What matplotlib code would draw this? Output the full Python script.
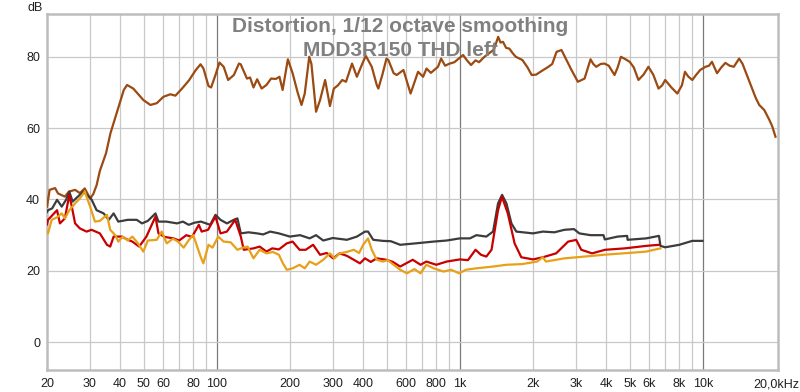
import matplotlib
matplotlib.use("Agg")
import matplotlib.pyplot as plt
from matplotlib.ticker import FixedLocator, NullFormatter, FixedFormatter

# ---------------- data ----------------
fund_f = [20, 20.5, 21.6, 22.2, 23.7, 24.6, 26.1, 27.3, 28.6, 30.1, 31, 32, 33, 35, 36.5, 38.7,
          41.4, 42.7, 45.3, 49.8, 53.3, 56.6, 60.3, 64.4, 67.5, 71.9, 76.8, 81.9, 85.7, 88.1,
          92.4, 94.7, 98.7, 102.5, 106.7, 111.3, 117.5, 123.3, 125.4, 133, 137, 141.5, 146.5,
          152.8, 160, 167.2, 175, 181, 186.5, 196, 205, 215, 223, 230, 240, 245, 256, 266,
          279, 292, 303, 315, 328, 340, 360, 377, 392, 410, 434, 455, 462, 480, 499, 508,
          534, 550, 586, 627, 673, 706, 729, 760, 790, 813, 837, 870, 900, 950, 1031, 1070,
          1112, 1160, 1200, 1262, 1320, 1380, 1438, 1470, 1505, 1550, 1598, 1650, 1700, 1809,
          1900, 1975, 2060, 2146, 2230, 2315, 2400, 2500, 2620, 2750, 2880, 3060, 3260, 3450,
          3540, 3640, 3800, 3940, 4100, 4330, 4460, 4600, 4750, 5000, 5200, 5430, 5700, 5970,
          6250, 6570, 6800, 7000, 7400, 7850, 8200, 8440, 8700, 9050, 9400, 9750, 10250,
          10600, 10900, 11440, 11900, 12380, 12900, 13410, 14100, 14550, 15270, 16030, 16500,
          17060, 17890, 18780, 19300, 19900]
fund_db = [38, 42.7, 43.2, 41.7, 40.8, 42.2, 42.7, 41.8, 43.1, 40.3, 41.5, 44, 48, 53, 58.6, 64.2,
           70.7, 72.1, 71.1, 67.9, 66.5, 67.0, 68.8, 69.5, 69.1, 71.1, 73.4, 76.3, 77.9, 76.7,
           71.8, 71.4, 74.9, 78.4, 77.2, 73.5, 74.9, 78.1, 77.9, 73.9, 74.2, 71.4, 73.7,
           71.1, 72.1, 73.9, 73.8, 74.4, 70.7, 79.3, 75.4, 70, 66.5, 69.7, 80, 78, 64.6, 67.9,
           73.5, 66.2, 71.1, 72, 73.5, 73, 78.1, 74.4, 77.2, 80.3, 77.2, 72.1, 71.1, 75, 79.5, 79.1,
           75.4, 74.9, 76.3, 69.7, 75.8, 74.4, 76.7, 75.5, 76.5, 77.2, 79.5, 77.5, 78, 78.5, 80.5, 79,
           77.7, 79, 78.5, 80, 81, 82, 85.6, 84, 84.2, 82.5, 82.3, 81, 80, 79.1,
           77, 74.9, 75, 75.8, 76.5, 77.2, 78, 81.4, 81.9, 79, 76.3, 73, 73.9, 79.3,
           78, 77.2, 78, 78.1, 77.5, 74.9, 77, 80, 79.5, 78.6, 77, 73.5, 75, 77.2,
           75, 71.1, 72, 73.5, 71.5, 69.7, 72, 75.8, 74.5, 73.5, 75, 76.3, 77.2,
           77.5, 78.6, 75.4, 77, 78.3, 77.5, 77.2, 79.5, 78.1, 74.4, 70.7, 68.5,
           66.5, 65.1, 62.3, 60.5, 57.6]

thd_f = [20, 20.2, 21, 22, 23, 24, 24.7, 25.5, 26.5, 28.2, 29, 30.5, 32, 34.2, 35.9, 37.6, 39.3,
         43, 46.8, 49.2, 52, 55.9, 57.5, 62, 68.6, 72.5, 76.6, 81, 86, 93.9, 98.7, 103.5, 110,
         117.4, 121.5, 125.5, 135, 146.5, 155, 165.8, 180, 199.8, 220, 241, 256, 274, 300, 343,
         377, 407, 419, 440, 482, 520, 568, 657, 780, 883, 1000, 1100, 1170, 1285, 1370, 1436,
         1492, 1555, 1630, 1708, 2000, 2195, 2450, 2690, 2950, 3100, 3450, 3900, 3950, 4460,
         4880, 4900, 5850, 6600, 6690, 7000, 8000, 9050, 9960]
thd_db = [36.5, 37, 37.5, 39.9, 38, 40, 42.2, 39.4, 40.5, 42.2, 41.5, 40, 37, 36.1, 34.3, 36.1, 33.8,
          34.3, 34.3, 33.3, 34, 36.1, 33.8, 33.8, 33.3, 33.8, 32.9, 33.5, 33.8, 32.9, 35.7, 34.3, 33.3,
          34.3, 34.7, 30.5, 30.8, 30.5, 30.2, 31, 30.5, 29.6, 30, 29.1, 30, 28.5, 29.2, 28.7,
          29.6, 31, 31, 28.7, 28.4, 28.3, 27.3, 27.7, 28.2, 28.5, 29.1, 29.1, 30, 29.6, 31, 38.9,
          41.3, 38.9, 33.3, 31, 30.5, 31, 30.8, 31.5, 31.7, 30.5, 30, 30, 28.8, 29.6,
          29.8, 28.7, 29.1, 29.8, 27, 26.6, 27.3, 28.4, 28.4]

h2_f = [20, 20.2, 22, 22.6, 23.7, 24.7, 25.3, 26.1, 27.3, 29.1, 30.5, 33, 35.3, 36.4, 37.6, 40.6,
        43, 44.9, 47.9, 51.3, 55.9, 57.5, 61, 66.3, 70, 74.9, 79, 84.3, 86.6, 92, 98.7, 103.5,
        110, 119, 125.5, 129, 141.5, 150, 160, 169, 180, 194, 205, 219, 232, 249, 266, 283, 301,
        320, 343, 366, 388, 407, 430, 455, 499, 530, 568, 640, 689, 728, 800, 883, 1000, 1080,
        1160, 1222, 1285, 1350, 1436, 1490, 1575, 1680, 1790, 2000, 2195, 2490, 2790, 2930,
        3010, 3160, 3500, 3960, 4780, 5850, 6600]
h2_db = [33, 34.3, 37, 33.3, 34.7, 41.3, 38, 33.3, 31.9, 31, 31.5, 30.5, 27.3, 26.8, 29.6, 29.6,
         28.7, 28.2, 26.8, 29.6, 35.2, 30.5, 29.5, 29.1, 28.5, 30, 29.5, 32.9, 31, 31.5, 35.2, 30.5,
         31, 34.3, 29.6, 25.9, 26.3, 26.8, 25.4, 26.3, 26, 27.7, 28.2, 25.9, 25.9, 27.3, 24.5, 25, 23.5,
         24.9, 24.2, 23.1, 22.1, 23.5, 22.5, 23.5, 23.1, 22.5, 21.2, 23.1, 21.7, 22.6, 21.7, 22.6, 23.2, 23,
         25.9, 24.5, 24, 25.9, 37, 40.8, 36.1, 27.7, 23.8, 23.2, 23.8, 24.9, 28.2, 28.5,
         28.7, 25.9, 24.9, 25.9, 26.3, 27, 27.3]

h3_f = [20, 20.2, 20.9, 22, 23, 23.7, 24.7, 26.1, 27.3, 28.6, 30.1, 31.5, 33, 35.3, 36.4, 38.2,
        39.3, 41, 43, 44.9, 47, 49.8, 52, 56.6, 59.3, 62.2, 66, 69.2, 73, 76.8, 80, 85.7, 88,
        92.4, 96, 101.3, 106.7, 114, 121.5, 128, 133.8, 141.5, 150, 160, 170, 180, 187, 194, 205,
        219, 230, 241, 256, 274, 292, 305, 320, 343, 366, 385, 400, 419, 434, 455, 482, 505, 534,
        568, 606, 650, 689, 728, 780, 857, 920, 994, 1058, 1166, 1370, 1555, 1809, 2080, 2195,
        2260, 2690, 3260, 3900, 5160, 5850, 6690]
h3_db = [31, 30.5, 34.3, 35, 36.1, 34.7, 37, 38.9, 40.3, 42.2, 38, 33.8, 34, 35.7, 31.5, 30,
         28.2, 29.6, 28.5, 29.6, 28, 25.4, 28.5, 28.7, 31, 27.7, 29, 28.2, 26.5, 28.7, 30, 24, 22.1,
         27.3, 26.5, 29.6, 28.2, 28, 25.9, 26.5, 26.8, 23.5, 25.9, 24.9, 25.3, 24.5, 22.1, 20.3, 20.7,
         21.7, 20.7, 22.6, 21.7, 23.1, 24.9, 23.5, 24.9, 25.3, 25.9, 25, 27.3, 29.1, 25.9, 23.1, 22.6, 23, 21.7,
         20.3, 19.3, 20.5, 19.3, 21.7, 20.7, 19.8, 20.3, 19.3, 20.3, 20.7, 21.2, 21.7, 21.9, 22.6, 23.8,
         22.6, 23.5, 24, 24.5, 25.1, 25.4, 26.3]

xtick_vals = [20, 30, 40, 50, 60, 80, 100, 200, 300, 400, 600, 800, 1000, 2000, 3000, 4000,
              5000, 6000, 8000, 10000, 20000]
xtick_labels = ["20", "30", "40", "50", "60", "80", "100", "200", "300", "400", "600", "800",
                "1k", "2k", "3k", "4k", "5k", "6k", "8k", "10k", "20,0kHz"]
ytick_vals = [0, 20, 40, 60, 80]
title_lines = ["Distortion, 1/12 octave smoothing", "MDD3R150 THD left"]

# ---------------- figure ----------------
plt.rcParams['font.family'] = ['Liberation Sans', 'DejaVu Sans']
fig = plt.figure(figsize=(8.0, 3.92), dpi=100)
ax = fig.add_axes([47/800, 22/392, (778.3-47)/800, (370-14)/392])
ax.set_xscale('log')
ax.set_xlim(20, 20440)
ax.set_ylim(-7.8, 92)

# grid
minor = [m * d for d in (10, 100, 1000) for m in range(2, 10)]
minor = [v for v in minor if v > 20]
for v in minor:
    ax.axvline(v, color='#c8c8c8', lw=0.9, zorder=0)
for v in (100, 1000, 10000):
    ax.axvline(v, color='#7a7a7a', lw=0.9, zorder=0)
for v in ytick_vals:
    ax.axhline(v, color='#c8c8c8', lw=0.9, zorder=0)

lw = 1.6
ax.plot(fund_f, fund_db, color='#9b4a12', lw=lw, zorder=3)
ax.plot(thd_f, thd_db, color='#3c3c3c', lw=lw, zorder=3)
ax.plot(h2_f, h2_db, color='#c80000', lw=lw, zorder=4)
ax.plot(h3_f, h3_db, color='#e8a018', lw=lw, zorder=4)

ax.xaxis.set_major_locator(FixedLocator(xtick_vals))
ax.xaxis.set_major_formatter(FixedFormatter(xtick_labels))
ax.xaxis.set_minor_formatter(NullFormatter())
ax.xaxis.set_minor_locator(FixedLocator([]))
ax.set_yticks(ytick_vals)
ax.set_yticklabels([str(v) for v in ytick_vals])
ax.tick_params(axis='both', length=0, labelsize=9, colors='#202020')
ax.tick_params(axis='x', pad=6)
ax.tick_params(axis='y', pad=5)

for s in ax.spines.values():
    s.set_color('#bdbdbd')
    s.set_linewidth(1.8)

fig.text(27/800, 1 - 8/392, "dB", fontsize=9, color='#202020', va='center', ha='left')
fig.text(400/800, 1 - 26/392, title_lines[0], fontsize=15, fontweight='bold',
         color='#808080', ha='center', va='center')
fig.text(400/800, 1 - 50/392, title_lines[1], fontsize=15, fontweight='bold',
         color='#808080', ha='center', va='center')

fig.savefig("out.png", dpi=100)
